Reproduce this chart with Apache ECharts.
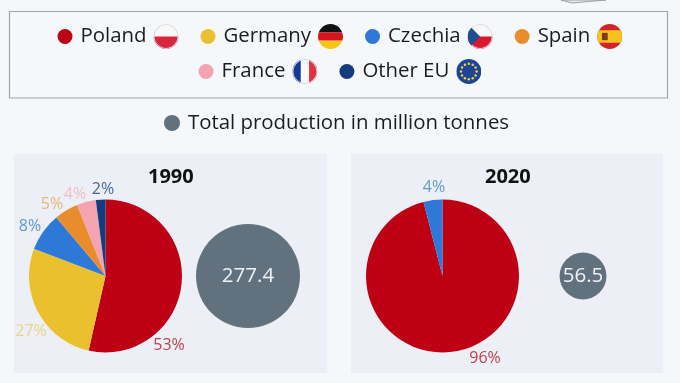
<!DOCTYPE html>
<html><head><meta charset="utf-8">
<style>html,body{margin:0;padding:0;background:#f4f8fb}#c{width:680px;height:383px}</style>
<script src="https://cdn.jsdelivr.net/npm/echarts@6/dist/echarts.min.js"></script>
</head><body><div id="c"></div>
<script>
const countries = ['Poland','Germany','Czechia','Spain','France','Other EU'];
const colors = ['#bd0013','#ebc02e','#2e78d8','#e98d2c','#f4a3b0','#133c7e'];
const labelColors = ['#b8404f','#e9d48a','#6098d4','#e9b478','#f2bcc6','#47689c'];
const share1990 = [53,27,8,5,4,2];
const countries2020 = ['Poland','Czechia'];
const share2020 = [96,4];
const years = ['1990','2020'];
const totals = [277.4,56.5];
const totalName = 'Total production in million tonnes';

const labelSpots1990 = [[169,345],[31,331],[30,226],[52,204],[75,194],[103,189]];
const labelSpots2020 = [[485,358],[434,187]];

function svg(body){
  return 'data:image/svg+xml;charset=utf-8,'+encodeURIComponent(
   '<svg xmlns="http://www.w3.org/2000/svg" width="48" height="48" viewBox="0 0 48 48"><defs><clipPath id="a"><circle cx="24" cy="24" r="24"/></clipPath></defs><g clip-path="url(#a)">'+body+'</g></svg>');
}
function stars(){
  let s='';
  for(let i=0;i<12;i++){const a=i*Math.PI/6;s+='<circle cx="'+(24+15*Math.cos(a)).toFixed(1)+'" cy="'+(24+15*Math.sin(a)).toFixed(1)+'" r="2.4" fill="#f2d13a"/>';}
  return s;
}
const rim = '<circle cx="24" cy="24" r="23" fill="none" stroke="#d5d8dc" stroke-width="2"/>';
const flags = {
  Poland: svg('<rect width="48" height="24" fill="#f8f8f8"/><rect y="24" width="48" height="24" fill="#d9263f"/>'+rim),
  Germany: svg('<rect width="48" height="16" fill="#111"/><rect y="16" width="48" height="16" fill="#d8141e"/><rect y="32" width="48" height="16" fill="#f5c518"/>'),
  Czechia: svg('<rect width="48" height="24" fill="#f8f8f8"/><rect y="24" width="48" height="24" fill="#d9192f"/>'+rim+'<path d="M0 0L24 24L0 48Z" fill="#1d4e8f"/>'),
  Spain: svg('<rect width="48" height="48" fill="#d2232a"/><rect y="12" width="48" height="24" fill="#f6c21c"/><rect x="9" y="17" width="11" height="14" fill="#7a3b1e"/>'),
  France: svg('<rect width="48" height="48" fill="#f8f8f8"/><rect width="16" height="48" fill="#14389a"/><rect x="32" width="16" height="48" fill="#e3303f"/>'+rim),
  'Other EU': svg('<rect width="48" height="48" fill="#1c4597"/>'+stars())
};
const rich = {
  n:{fontFamily:'Open Sans',fontSize:20.4,color:'#1c1c1c',padding:[0,7,0,3]},
  t:{fontFamily:'Open Sans',fontSize:20.4,color:'#1c1c1c',padding:[0,0,0,3]}
};
const keys = {Poland:'f0',Germany:'f1',Czechia:'f2',Spain:'f3',France:'f4','Other EU':'f5'};
countries.forEach(c=>{rich[keys[c]]={width:25,height:25,backgroundColor:{image:flags[c]}};});
function legend(data,top,left){
  return {data,top,left,orient:'horizontal',icon:'circle',itemWidth:15,itemHeight:15,itemGap:22,selectedMode:false,padding:0,
    textStyle:{rich,fontFamily:'Open Sans',fontSize:20.4,color:'#1c1c1c'},
    formatter:n=>'{n|'+n+'}{'+keys[n]+'|}'};
}
function pie(center,names,vals,spots){
  return {type:'pie',center,radius:[0,76.5],startAngle:90,clockwise:true,animation:false,silent:true,avoidLabelOverlap:false,
    data:names.map((n,i)=>({name:n,value:vals[i],
      itemStyle:{color:colors[countries.indexOf(n)]},
      label:{color:labelColors[countries.indexOf(n)]}})),
    label:{show:true,position:'outside',formatter:'{c}%',fontFamily:'Open Sans',fontSize:16,overflow:'none'},
    labelLine:{show:false},
    labelLayout:p=>({x:spots[p.dataIndex][0],y:spots[p.dataIndex][1],align:'center',verticalAlign:'middle'})};
}
const titleStyle = {fontFamily:'Open Sans',fontSize:20,fontWeight:'bold',color:'#111'};
const chart = echarts.init(document.getElementById('c'));
chart.setOption({
  backgroundColor:'#f4f8fb',animation:false,
  legend:[legend(countries.slice(0,4),24,57.5),legend(countries.slice(4),59,198.5),
    {data:[totalName],top:113,left:164,padding:0,icon:'circle',itemWidth:16,itemHeight:16,selectedMode:false,
     textStyle:{rich,fontFamily:'Open Sans',fontSize:20.4,color:'#1c1c1c'},formatter:n=>'{t|'+n+'}'}],
  title:[
    {text:years[0],left:148,top:167,padding:0,textStyle:titleStyle},
    {text:years[1],left:485,top:167,padding:0,textStyle:titleStyle}
  ],
  graphic:[
    {type:'rect',shape:{x:9.5,y:11.5,width:658,height:86.5},style:{fill:'none',stroke:'#9ea5ab',lineWidth:1.2}},
    {type:'rect',shape:{x:14,y:154,width:313,height:219},style:{fill:'#ecf0f6'}},
    {type:'rect',shape:{x:351,y:154,width:312,height:219},style:{fill:'#ecf0f6'}},
    {type:'polygon',shape:{points:[[561,0],[572,3],[606,0]]},style:{fill:'#e4e8ec',stroke:'#9aa2a8',lineWidth:1}}
  ],
  grid:{left:80.5,width:670,top:176,height:200,outerBoundsMode:'none'},
  xAxis:{type:'category',data:years,show:false},
  yAxis:{type:'value',min:-1,max:1,show:false},
  series:[
    pie([105.5,276],countries,share1990,labelSpots1990),
    pie([442.5,276],countries2020,share2020,labelSpots2020),
    {type:'scatter',name:totalName,animation:false,silent:true,clip:false,
     data:totals.map((v,i)=>[years[i],0]),
     symbolSize:(val,p)=>2*3.12*Math.sqrt(totals[p.dataIndex]),
     itemStyle:{color:'#62717e',opacity:1},
     label:{show:true,position:'inside',formatter:p=>totals[p.dataIndex].toFixed(1),fontFamily:'Open Sans',fontSize:20.5,color:'#eef2f6'}}
  ]
});
</script></body></html>
